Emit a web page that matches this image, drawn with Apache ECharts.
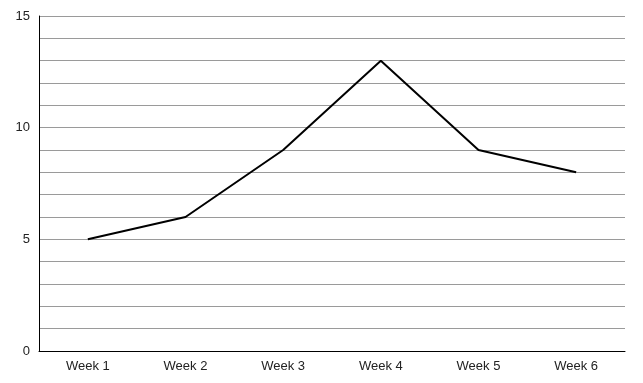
<!DOCTYPE html>
<html><head><meta charset="utf-8">
<script src="https://cdn.jsdelivr.net/npm/echarts@6/dist/echarts.min.js"></script>
<style>html,body{margin:0;padding:0;background:#fff}#c{width:643px;height:383px}</style>
</head><body><div id="c"></div>
<script>
var categories = ["Week 1","Week 2","Week 3","Week 4","Week 5","Week 6"];
var values = [5, 6, 9, 13, 9, 8];
var yLabels = [0, 5, 10, 15];

var chart = echarts.init(document.getElementById('c'));
chart.setOption({
  animation: false,
  grid: {left: 39, right: 18, top: 16, bottom: 32},
  xAxis: {
    type: 'category', data: categories, boundaryGap: true,
    axisLine: {lineStyle: {color: '#000', width: 1}},
    axisTick: {show: false},
    axisLabel: {color: '#222', fontFamily: 'Liberation Sans, Arial', fontSize: 13, margin: 9}
  },
  yAxis: {
    type: 'value', min: 0, max: 15, interval: 1,
    axisLine: {show: true, lineStyle: {color: '#000', width: 1}},
    axisTick: {show: false},
    axisLabel: {color: '#222', fontFamily: 'Liberation Sans, Arial', fontSize: 13, margin: 9,
      formatter: function(v){ return yLabels.indexOf(v) >= 0 ? String(v) : ''; }},
    splitLine: {lineStyle: {color: '#9a9a9a', width: 1}}
  },
  series: [{
    type: 'line', data: values, showSymbol: false, symbol: 'none',
    lineStyle: {color: '#000', width: 2}
  }]
});
</script></body></html>
